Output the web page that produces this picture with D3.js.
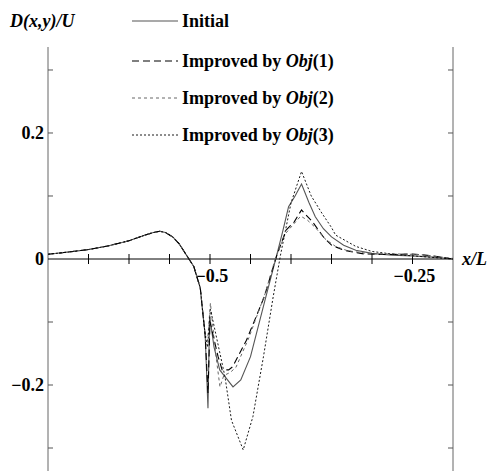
<!DOCTYPE html>
<meta charset="utf-8">
<title>D(x,y)/U</title>
<style>
body { margin: 0; background: #fff; }
text { font-family: "Liberation Serif", "Times New Roman", serif; font-weight: bold; }
.line { fill: none; }
</style>
<body>
<div id="chart"></div>
<script src="https://d3js.org/d3.v7.min.js"></script>
<script>
// shared part of all four curves, x/L -> D/U
var common = [[-0.7,0.0075],[-0.675,0.011],[-0.65,0.015],[-0.625,0.021],[-0.6,0.029],[-0.58,0.038],
  [-0.57,0.042],[-0.562,0.044],[-0.555,0.042],[-0.546,0.035],[-0.538,0.024],[-0.53,0.008],[-0.526,0],
  [-0.52,-0.012],[-0.512,-0.046],[-0.509,-0.084],[-0.506,-0.12]];

var initial = [[-0.5025,-0.237],[-0.5005,-0.09],[-0.495,-0.14],[-0.488,-0.176],[-0.4716,-0.203],
  [-0.462,-0.192],[-0.45,-0.155],[-0.432,-0.065],[-0.418,0.004],[-0.41,0.045],[-0.403,0.083],
  [-0.395,0.1],[-0.387,0.119],[-0.378,0.09],[-0.37,0.067],[-0.36,0.048],[-0.35,0.035],[-0.335,0.022],
  [-0.32,0.014],[-0.3,0.009],[-0.275,0.006],[-0.25,0.005],[-0.225,0.003],[-0.2,0]];

var obj1 = [[-0.5025,-0.213],[-0.5,-0.1],[-0.49,-0.155],[-0.485,-0.176],[-0.477,-0.176],[-0.472,-0.171],
  [-0.455,-0.129],[-0.433,-0.06],[-0.418,0.004],[-0.406,0.046],[-0.396,0.059],[-0.387,0.078],
  [-0.383,0.072],[-0.374,0.06],[-0.36,0.035],[-0.35,0.022],[-0.335,0.014],[-0.31,0.008],
  [-0.28,0.007],[-0.25,0.008],[-0.225,0.005],[-0.2,0]];

var obj2 = [[-0.503,-0.13],[-0.4995,-0.07],[-0.493,-0.15],[-0.4877,-0.203],[-0.483,-0.185],
  [-0.475,-0.18],[-0.468,-0.172],[-0.452,-0.125],[-0.432,-0.055],[-0.419,0.002],[-0.407,0.04],
  [-0.397,0.055],[-0.388,0.068],[-0.38,0.062],[-0.37,0.05],[-0.358,0.032],[-0.345,0.02],
  [-0.33,0.013],[-0.3,0.008],[-0.27,0.008],[-0.24,0.007],[-0.2,0.001]];

var obj3 = [[-0.503,-0.14],[-0.4995,-0.08],[-0.4957,-0.102],[-0.4815,-0.187],[-0.4735,-0.256],
  [-0.459,-0.303],[-0.447,-0.25],[-0.434,-0.155],[-0.422,-0.06],[-0.413,0.006],[-0.4,0.089],
  [-0.387,0.139],[-0.375,0.1],[-0.362,0.073],[-0.35,0.05],[-0.345,0.038],[-0.32,0.02],
  [-0.3,0.012],[-0.27,0.007],[-0.25,0.005],[-0.2,0]];

var series = [
  {name: "Initial", obj: null, pts: initial, color: "#555", dash: null, w: 1.1},
  {name: "Improved by ", obj: "1", pts: obj1, color: "#000", dash: "7,4", w: 1.1},
  {name: "Improved by ", obj: "2", pts: obj2, color: "#666", dash: "3,3", w: 1},
  {name: "Improved by ", obj: "3", pts: obj3, color: "#000", dash: "2,2", w: 0.9}
];

var xTicks = d3.range(-0.65, -0.2, 0.05);
var yTicks = [-0.3, -0.2, -0.1, 0.1, 0.2, 0.3];
var xLabels = [-0.5, -0.25];
var yLabels = [-0.2, 0, 0.2];

var width = 487, height = 471;

var svg = d3.select("#chart").append("svg")
    .attr("width", width)
    .attr("height", height);

var x = d3.scaleLinear().domain([-0.7, -0.2]).range([48, 453]);
var y = d3.scaleLinear().domain([-0.3365, 0.3365]).range([471, 47]);

var line = d3.line().x(function(d) { return x(d[0]); }).y(function(d) { return y(d[1]); });

// frame: left and right verticals
svg.append("line").attr("x1", x(-0.7)).attr("x2", x(-0.7)).attr("y1", y.range()[1]).attr("y2", y.range()[0])
  .attr("stroke", "#666").attr("stroke-width", 1);
svg.append("line").attr("x1", x(-0.2)).attr("x2", x(-0.2)).attr("y1", y.range()[1]).attr("y2", y.range()[0])
  .attr("stroke", "#666").attr("stroke-width", 1);

// y ticks, inward on both sides
yTicks.forEach(function(t) {
  svg.append("line").attr("x1", x(-0.7)).attr("x2", x(-0.7) + 5).attr("y1", y(t)).attr("y2", y(t))
    .attr("stroke", "#555");
  svg.append("line").attr("x1", x(-0.2) - 5).attr("x2", x(-0.2)).attr("y1", y(t)).attr("y2", y(t))
    .attr("stroke", "#555");
});

yLabels.forEach(function(t) {
  svg.append("text").attr("x", x(-0.7) - 4).attr("y", y(t) + 6)
    .attr("text-anchor", "end").attr("font-size", 18)
    .text(t === 0 ? "0" : d3.format(".1f")(t).replace("-", "\u2212"));
});

// zero axis
svg.append("line").attr("x1", x(-0.7)).attr("x2", x(-0.2)).attr("y1", y(0)).attr("y2", y(0))
  .attr("stroke", "#000").attr("stroke-width", 1);
xTicks.forEach(function(t) {
  svg.append("line").attr("x1", x(t)).attr("x2", x(t)).attr("y1", y(0) - 5).attr("y2", y(0) + 5)
    .attr("stroke", "#000");
});
xLabels.forEach(function(t) {
  svg.append("text").attr("x", x(t) + 2).attr("y", y(0) + 23)
    .attr("text-anchor", "middle").attr("font-size", 18)
    .text(String(t).replace("-", "\u2212"));
});

svg.append("text").attr("x", 462).attr("y", y(0) + 6).attr("font-size", 18)
  .attr("font-style", "italic").text("x/L");
svg.append("text").attr("x", 10).attr("y", 27).attr("font-size", 18)
  .attr("font-style", "italic").text("D(x,y)/U");

// curves
series.forEach(function(s) {
  svg.append("path").attr("class", "line")
    .attr("d", line(common.concat(s.pts)))
    .attr("stroke", s.color).attr("stroke-width", s.w)
    .attr("stroke-dasharray", s.dash);
});

// legend
var legY = [21, 61, 98, 135];
series.forEach(function(s, i) {
  svg.append("line").attr("x1", 132).attr("x2", 178).attr("y1", legY[i]).attr("y2", legY[i])
    .attr("stroke", s.color).attr("stroke-width", s.w).attr("stroke-dasharray", s.dash);
  var t = svg.append("text").attr("x", 182).attr("y", legY[i] + 6).attr("font-size", 18);
  t.append("tspan").text(s.name);
  if (s.obj) {
    t.append("tspan").attr("font-style", "italic").text("Obj");
    t.append("tspan").text("(" + s.obj + ")");
  }
});
</script>
</body>
</html>
